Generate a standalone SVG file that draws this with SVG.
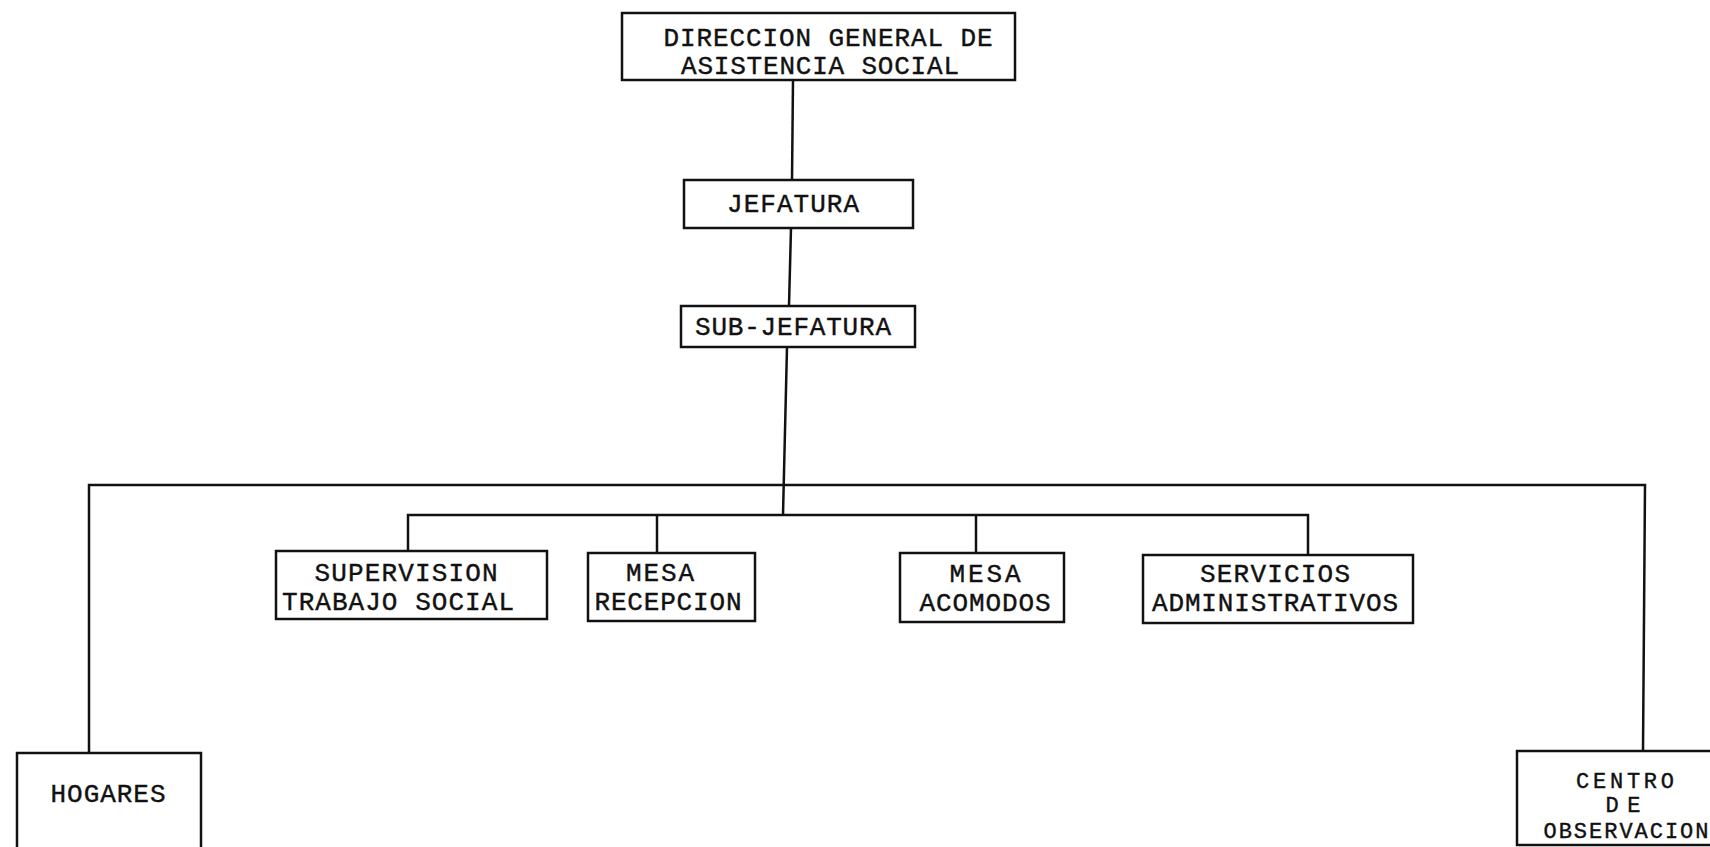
<svg xmlns="http://www.w3.org/2000/svg" width="1710" height="847" viewBox="0 0 1710 847">
<style>
.box{fill:#fff;stroke:#111;stroke-width:2.5}
.ln{fill:none;stroke:#111;stroke-width:2.5}
text{font-family:"Liberation Mono","DejaVu Sans Mono",monospace;font-size:26px;fill:#111;stroke:#111;stroke-width:0.4;text-anchor:middle}
.sm{font-size:22px}
</style>
<rect width="1710" height="847" fill="#fff"/>
<g id="connectors">
<path class="ln" d="M793,80 L792,180"/>
<path class="ln" d="M791,228 L789,306"/>
<path class="ln" d="M787,347 L783,515"/>
<path class="ln" d="M89,753 L89,485 L1645,485 L1643,751"/>
<path class="ln" d="M408,551 L408,515 L1308,515 L1308,555"/>
<path class="ln" d="M657,515 L657,553"/>
<path class="ln" d="M976,515 L976,553"/>
</g>
<g id="n-direccion">
<rect class="box" x="622" y="13" width="393" height="67"/>
<text x="828" y="46" textLength="329">DIRECCION GENERAL DE</text>
<text x="820" y="74" textLength="278">ASISTENCIA SOCIAL</text>
</g>
<g id="n-jefatura">
<rect class="box" x="684" y="180" width="229" height="48"/>
<text x="793" y="212" textLength="132">JEFATURA</text>
</g>
<g id="n-subjefatura">
<rect class="box" x="681" y="306" width="234" height="41"/>
<text x="793" y="335" textLength="196">SUB-JEFATURA</text>
</g>
<g id="n-supervision">
<rect class="box" x="276" y="551" width="271" height="68"/>
<text x="406" y="581" textLength="183">SUPERVISION</text>
<text x="398" y="610" textLength="232">TRABAJO SOCIAL</text>
</g>
<g id="n-recepcion">
<rect class="box" x="588" y="553" width="167" height="68"/>
<text x="660" y="581" textLength="68">MESA</text>
<text x="668" y="610" textLength="147">RECEPCION</text>
</g>
<g id="n-acomodos">
<rect class="box" x="900" y="553" width="164" height="69"/>
<text x="985" y="582" textLength="71">MESA</text>
<text x="985" y="611" textLength="131">ACOMODOS</text>
</g>
<g id="n-servicios">
<rect class="box" x="1143" y="555" width="270" height="68"/>
<text x="1275" y="582" textLength="150">SERVICIOS</text>
<text x="1275" y="611" textLength="246">ADMINISTRATIVOS</text>
</g>
<g id="n-hogares">
<rect class="box" x="17" y="753" width="184" height="110"/>
<text x="108" y="802" textLength="115">HOGARES</text>
</g>
<g id="n-centro">
<rect class="box" x="1517" y="751" width="200" height="94"/>
<text class="sm" x="1625" y="788" textLength="98">CENTRO</text>
<text class="sm" x="1623" y="812" textLength="35">DE</text>
<text class="sm" x="1626" y="838" textLength="165">OBSERVACION</text>
</g>
</svg>
